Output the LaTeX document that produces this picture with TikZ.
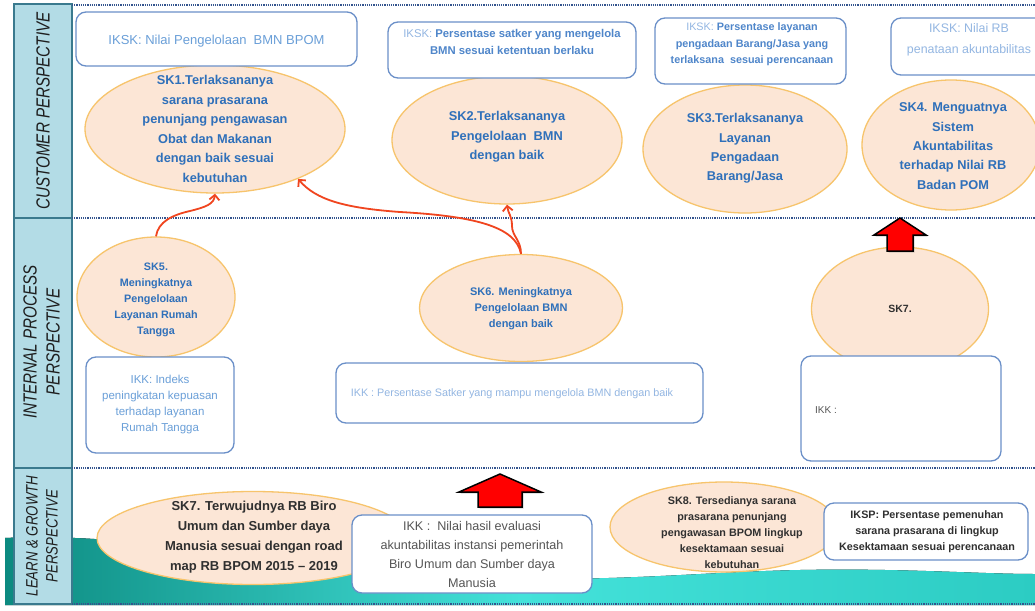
\documentclass[tikz,border=0pt]{standalone}
\usepackage{fontspec}
\setmainfont{Liberation Sans}
\usetikzlibrary{shapes.geometric,arrows.meta,shadows}
\definecolor{sidefill}{HTML}{B3DCE6}
\definecolor{sideline}{HTML}{3A7A8E}
\definecolor{dotline}{HTML}{34548E}
\definecolor{ellfill}{HTML}{FCE6D6}
\definecolor{elldraw}{HTML}{F7C46C}
\definecolor{boxdraw}{HTML}{6A8FC8}
\definecolor{skblue}{HTML}{2F70BA}
\definecolor{ltblue}{HTML}{6A9FD8}
\definecolor{paleblue}{HTML}{93B6E2}
\definecolor{bxblue}{HTML}{4F86CA}
\definecolor{darktxt}{HTML}{303030}
\definecolor{sidetext}{HTML}{1E1E1E}
\definecolor{graytxt}{HTML}{555555}
\definecolor{redline}{HTML}{F0451F}
\definecolor{tealdark}{HTML}{0C8A80}
\definecolor{tealmid}{HTML}{44E2DA}
\definecolor{tealright}{HTML}{2CCCC3}
\newcommand\myfs[2]{\fontsize{#1}{#2}\selectfont}
\begin{document}
\begin{tikzpicture}[x=1pt,y=-1pt,
  ell/.style={ellipse,draw=elldraw,line width=1.3pt,fill=ellfill,inner sep=0pt},
  bx/.style={draw=boxdraw,line width=1.3pt,fill=white,rounded corners=10pt,inner sep=0pt},
  txt/.style={inner sep=0pt,align=center},
  sidetxt/.style={inner sep=0pt,align=center,rotate=90,text=sidetext},
  dotsep/.style={draw=dotline,line width=2pt,dash pattern=on 1.1pt off 1.1pt},
  redarrow/.style={draw=redline,line width=1.8pt,-{Straight Barb[length=5pt,width=10pt]}},
  blockarrow/.style={fill=red,draw=black,line width=1.5pt,line join=miter,
     drop shadow={opacity=0.35,shadow xshift=1.5pt,shadow yshift=-1.5pt}}]
\clip (0,0) rectangle (1035,610);
\fill[white] (0,0) rectangle (1035,610);
% teal wave background
\fill[left color=tealdark,right color=tealright,middle color=tealmid]
  (5,538) .. controls (150,531) and (300,572) .. (480,578)
  .. controls (620,582) and (700,572) .. (800,570)
  .. controls (900,568) and (980,574) .. (1035,574)
  -- (1035,605) -- (5,605) -- cycle;
% sidebar
\draw[fill=sidefill,draw=sideline,line width=1.5pt] (14,4) rectangle (72,604);
\draw[sideline,line width=1.5pt] (14,218) -- (72,218);
\draw[sideline,line width=1.5pt] (14,468) -- (72,468);
% dotted separators
\draw[dotsep] (72,5) -- (1035,5);
\draw[dotsep] (72,217.5) -- (1035,217.5);
\draw[dotsep] (72,468) -- (1035,468);
\draw[dotsep] (72,604) -- (1035,604);
% sidebar labels
\node[sidetxt] (lcust) at (43,111) {\scalebox{0.8}[1]{\myfs{19}{23}\itshape CUSTOMER PERSPECTIVE}};
\node[sidetxt] (lint) at (43.5,342) {\scalebox{0.8}[1]{\myfs{19}{23}\itshape\begin{tabular}{@{}c@{}}INTERNAL PROCESS\\PERSPECTIVE\end{tabular}}};
\node[sidetxt] (llearn) at (43.5,536) {\scalebox{0.8}[1]{\myfs{16.5}{20}\itshape\begin{tabular}{@{}c@{}}LEARN \& GROWTH\\PERSPECTIVE\end{tabular}}};
% ellipses
\node[ell,minimum width=260pt,minimum height=128pt] (e1) at (215,129) {};
\node[ell,minimum width=230pt,minimum height=128pt] (e2) at (507,140) {};
\node[ell,minimum width=204pt,minimum height=128pt] (e3) at (745,149) {};
\node[ell,minimum width=178pt,minimum height=130pt] (e4) at (951,145) {};
\node[ell,minimum width=158pt,minimum height=120pt] (e5) at (156,297) {};
\node[ell,minimum width=203pt,minimum height=107pt] (e6) at (521,308) {};
\node[ell,minimum width=177pt,minimum height=124pt] (e7) at (900,309) {};
\node[ell,minimum width=312pt,minimum height=93pt] (e8) at (253,538) {};
\node[ell,minimum width=228pt,minimum height=90pt] (e9) at (724,527) {};
% boxes
\node[bx,minimum width=281pt,minimum height=54pt] (b1) at (216.5,39) {};
\node[bx,minimum width=248pt,minimum height=56pt] (b2) at (512,50) {};
\node[bx,minimum width=191pt,minimum height=66pt] (b3) at (750.5,51) {};
\node[bx,minimum width=170pt,minimum height=57pt] (b4) at (976,46.5) {};
\node[bx,minimum width=148pt,minimum height=96pt] (b5) at (160,405) {};
\node[bx,minimum width=367pt,minimum height=60pt] (b6) at (519.5,393) {};
\node[bx,minimum width=200pt,minimum height=105pt] (b7) at (901,408.5) {};
\node[bx,minimum width=240pt,minimum height=78pt] (b8) at (472,554) {};
\node[bx,minimum width=204pt,minimum height=57pt] (b9) at (926,531.5) {};
% ellipse texts
\node[txt,text=skblue,font=\bfseries\myfs{12.8}{19.5}] (t1) at (215,129)
  {SK1.Terlaksananya\\sarana prasarana\\penunjang pengawasan\\Obat dan Makanan\\dengan baik sesuai\\kebutuhan};
\node[txt,text=skblue,font=\bfseries\myfs{12.8}{19.5}] (t2) at (507,137)
  {SK2.Terlaksananya\\Pengelolaan\ \ BMN\\dengan baik};
\node[txt,text=skblue,font=\bfseries\myfs{12.8}{19.2}] (t3) at (745,148.5)
  {SK3.Terlaksananya\\Layanan\\Pengadaan\\Barang/Jasa};
\node[txt,text=skblue,font=\bfseries\myfs{12.8}{19.3}] (t4) at (953,146)
  {SK4. Menguatnya\\Sistem\\Akuntabilitas\\terhadap Nilai RB\\Badan POM};
\node[txt,text=skblue,font=\bfseries\myfs{10.8}{16}] (t5) at (156,300)
  {SK5.\\Meningkatnya\\Pengelolaan\\Layanan Rumah\\Tangga};
\node[txt,text=skblue,font=\bfseries\myfs{11}{16}] (t6) at (521,309)
  {SK6. Meningkatnya\\Pengelolaan BMN\\dengan baik};
\node[txt,text=darktxt,font=\bfseries\myfs{10.5}{14}] (t7) at (900,309) {SK7.};
\node[txt,text=darktxt,font=\bfseries\myfs{13}{20}] (t8) at (254,537)
  {SK7. Terwujudnya RB Biro\\Umum dan Sumber daya\\Manusia sesuai dengan road\\map RB BPOM 2015 -- 2019};
\node[txt,text=darktxt,font=\bfseries\myfs{10.8}{16}] (t9) at (732,532.5)
  {SK8. Tersedianya sarana\\prasarana penunjang\\pengawasan BPOM lingkup\\kesektamaan sesuai\\kebutuhan};
% box texts
\node[txt,text=ltblue,font=\myfs{13}{16}] (bt1) at (216.5,41.5) {IKSK: Nilai Pengelolaan\ \ BMN BPOM};
\node[txt,text=bxblue,font=\bfseries\myfs{11.3}{17}] (bt2) at (512,41.5)
  {{\mdseries\color{paleblue}IKSK:} Persentase satker yang mengelola\\BMN sesuai ketentuan berlaku};
\node[txt,text=bxblue,font=\bfseries\myfs{10.8}{16.5}] (bt3) at (752,44.5)
  {{\mdseries\color{paleblue}IKSK:} Persentase layanan\\pengadaan Barang/Jasa yang\\terlaksana\ \ sesuai perencanaan};
\node[txt,text=paleblue,font=\myfs{12.4}{21}] (bt4) at (969,39.5) {IKSK: Nilai RB\\penataan akuntabilitas};
\node[txt,text=ltblue,font=\myfs{11.5}{16}] (bt5) at (160,405)
  {IKK:\ Indeks\\peningkatan kepuasan\\terhadap layanan\\Rumah Tangga};
\node[txt,text=paleblue,font=\myfs{10.8}{14}] (bt6) at (512,394)
  {IKK\ : Persentase Satker yang mampu mengelola BMN dengan baik};
\node[txt,text=graytxt,font=\myfs{10}{14},anchor=west] (bt7) at (815,410) {IKK :};
\node[txt,text=graytxt,font=\myfs{12.6}{19}] (bt8) at (472,554.5)
  {IKK :\ \ Nilai hasil evaluasi\\akuntabilitas instansi pemerintah\\Biro Umum dan Sumber daya\\Manusia};
\node[txt,text=darktxt,font=\bfseries\myfs{10.8}{16}] (bt9) at (927,532)
  {IKSP: Persentase pemenuhan\\sarana prasarana di lingkup\\Kesektamaan sesuai perencanaan};
% curved red connectors
\draw[redarrow] (e5.north) .. controls (158,222) and (172,215) .. (190,211)
  .. controls (206,207) and (214,204) .. (e1.south);
\draw[redarrow] (e6.north) .. controls (516,226) and (472,216) .. (400,212)
  .. controls (345,208) and (316,200) .. (e1.-31);
\draw[redarrow] (e6.north) .. controls (521,240) and (512,236) .. (512,226)
  .. controls (512,216) and (508,213) .. (e2.south);
% red block arrows
\coordinate (ra1) at (900,218);
\draw[blockarrow] (ra1) -- ++(26,17) -- ++(-13,0) -- ++(0,16) -- ++(-26,0)
  -- ++(0,-16) -- ++(-13,0) -- cycle;
\coordinate (ra2) at (500,474);
\draw[blockarrow] (ra2) -- ++(41,18) -- ++(-19,0) -- ++(0,15) -- ++(-44,0)
  -- ++(0,-15) -- ++(-19,0) -- cycle;
\end{tikzpicture}
\end{document}
